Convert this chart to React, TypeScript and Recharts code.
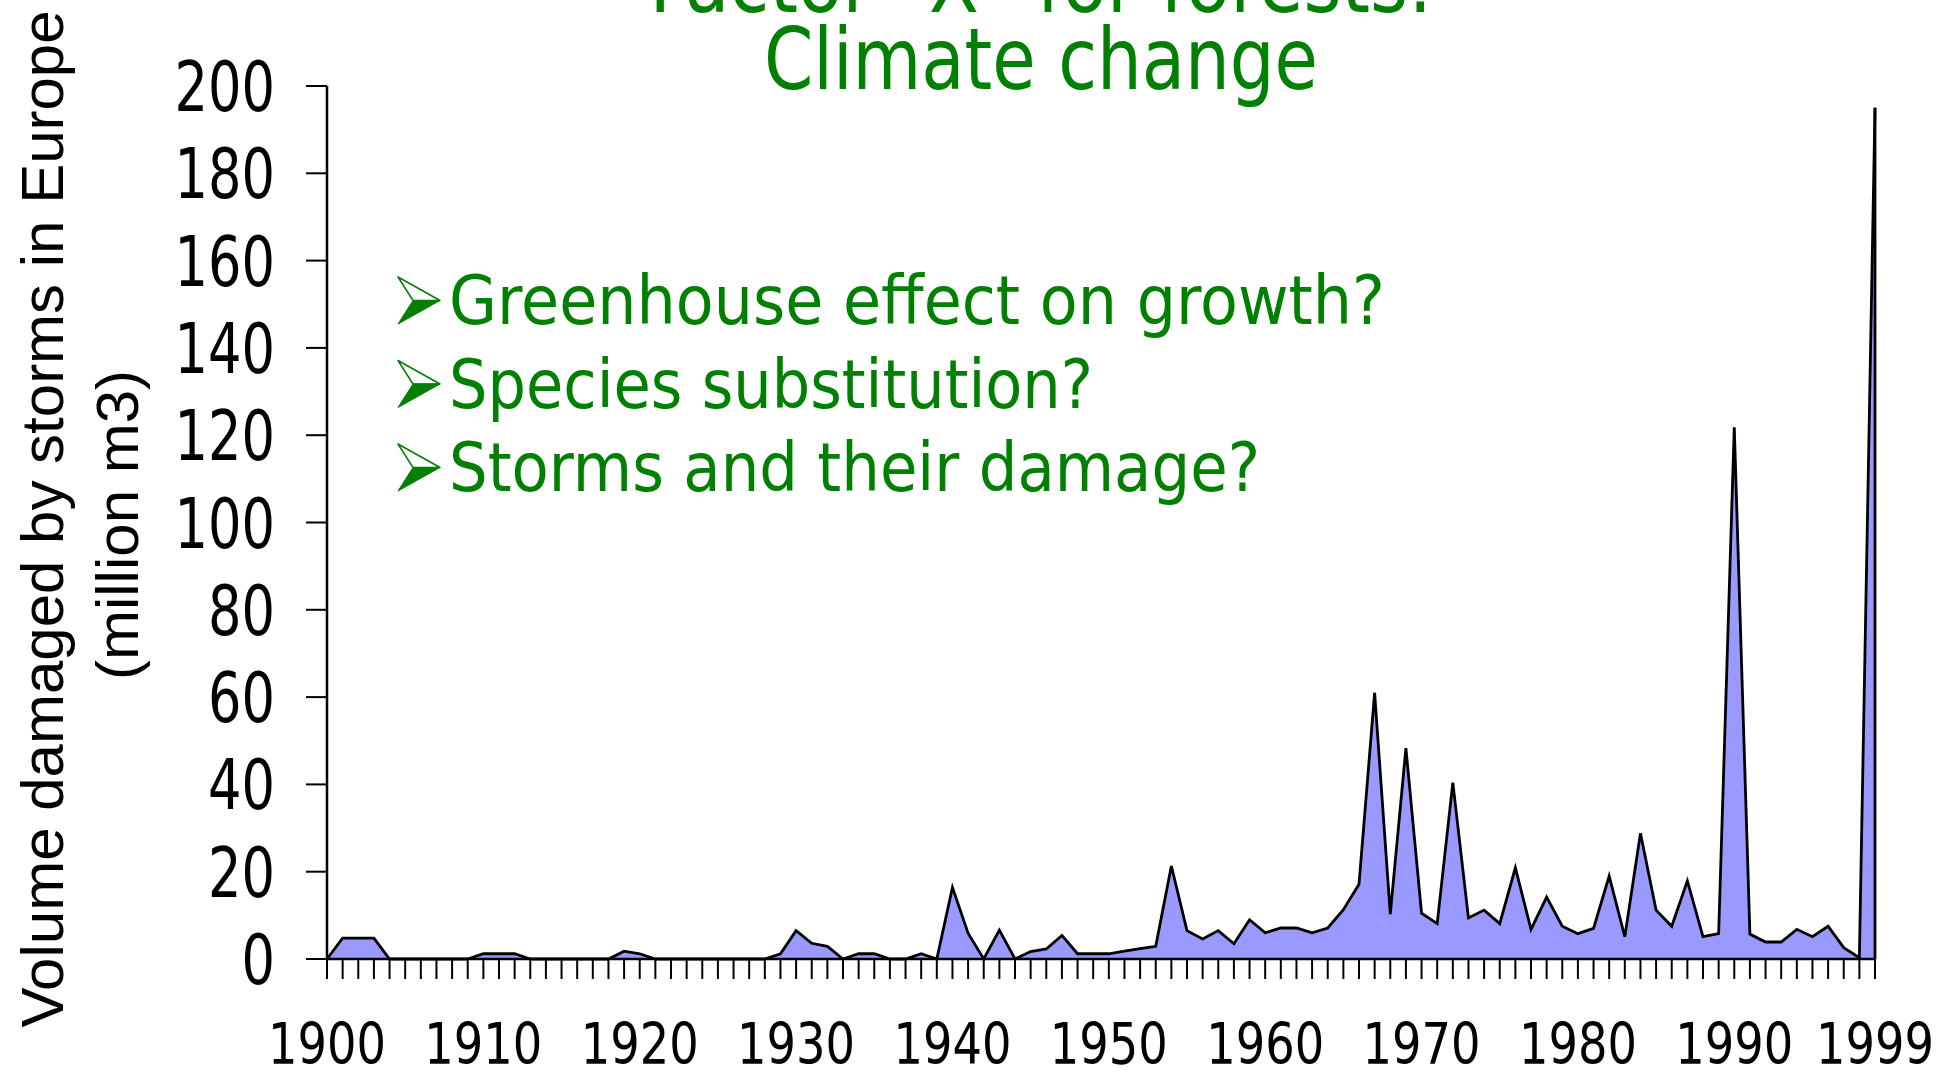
import { AreaChart, Area, XAxis, YAxis, ReferenceLine } from "recharts"

// storm damage per year, million m3
const years = [
  1900, 1901, 1902, 1903, 1904, 1905, 1906, 1907, 1908, 1909,
  1910, 1911, 1912, 1913, 1914, 1915, 1916, 1917, 1918, 1919,
  1920, 1921, 1922, 1923, 1924, 1925, 1926, 1927, 1928, 1929,
  1930, 1931, 1932, 1933, 1934, 1935, 1936, 1937, 1938, 1939,
  1940, 1941, 1942, 1943, 1944, 1945, 1946, 1947, 1948, 1949,
  1950, 1951, 1952, 1953, 1954, 1955, 1956, 1957, 1958, 1959,
  1960, 1961, 1962, 1963, 1964, 1965, 1966, 1967, 1968, 1969,
  1970, 1971, 1972, 1973, 1974, 1975, 1976, 1977, 1978, 1979,
  1980, 1981, 1982, 1983, 1984, 1985, 1986, 1987, 1988, 1989,
  1990, 1991, 1992, 1993, 1994, 1995, 1996, 1997, 1998, 1999,
]

const volumes = [
  0, 4.8, 4.8, 4.8, 0, 0, 0, 0, 0, 0,
  1.2, 1.2, 1.2, 0, 0, 0, 0, 0, 0, 1.8,
  1.2, 0, 0, 0, 0, 0, 0, 0, 0, 1.2,
  6.5, 3.6, 2.9, 0, 1.2, 1.2, 0, 0, 1.2, 0,
  16.4, 5.9, 0, 6.6, 0, 1.7, 2.3, 5.4, 1.2, 1.2,
  1.2, 1.8, 2.4, 2.9, 21.3, 6.5, 4.6, 6.5, 3.5, 9.0,
  6.0, 7.1, 7.1, 6.0, 7.1, 11.3, 17.1, 61, 10.3, 48.3,
  10.5, 8.1, 40.4, 9.4, 11.2, 8.1, 20.9, 6.8, 14.2, 7.5,
  5.8, 7.0, 19.0, 5.1, 28.8, 11.2, 7.5, 17.9, 5.1, 5.8,
  121.8, 5.7, 3.9, 3.9, 6.8, 5.1, 7.5, 2.6, 0.3, 195,
]

const yearLabels = [1900, 1910, 1920, 1930, 1940, 1950, 1960, 1970, 1980, 1990, 1999]
const volumeTicks = [0, 20, 40, 60, 80, 100, 120, 140, 160, 180, 200]

const titleLines = ["Factor \u201CX\u201D for forests:", "Climate change"]
const bullets = ["Greenhouse effect on growth?", "Species substitution?", "Storms and their damage?"]
const yTitleLines = ["Volume damaged by storms in Europe", "(million m3)"]

const GREEN = "#008000"

function YearTick(props: any) {
  const { x, y, payload } = props
  if (!yearLabels.includes(Number(payload.value))) return <g />
  return (
    <text
      x={x}
      y={y + 85}
      textAnchor="middle"
      fontFamily="DejaVu Sans"
      fontSize={57}
      textLength={118}
      lengthAdjust="spacingAndGlyphs"
      fill="#000"
    >
      {payload.value}
    </text>
  )
}

function VolumeTick(props: any) {
  const { x, y, payload } = props
  const label = String(payload.value)
  return (
    <text
      x={x}
      y={y + 25}
      textAnchor="end"
      fontFamily="DejaVu Sans"
      fontSize={70}
      textLength={label.length * 33.5}
      lengthAdjust="spacingAndGlyphs"
      fill="#000"
    >
      {label}
    </text>
  )
}

// the slide's arrowhead bullet: outlined upper half, filled lower half
function Arrowhead({ baseline }: { baseline: number }) {
  const top = baseline - 47
  const mid = baseline - 23.5
  return (
    <g>
      <path d={`M398 ${top} L440 ${mid} L413 ${mid} Z`} fill="#fff" stroke={GREEN} strokeWidth={1.5} strokeLinejoin="round" />
      <path d={`M413 ${mid} L440 ${mid} L398 ${baseline} Z`} fill={GREEN} stroke={GREEN} strokeWidth={1} />
    </g>
  )
}

export default function App() {
  const chartData = years.map((year, i) => ({ year, volume: volumes[i] }))
  const lastYear = years[years.length - 1]
  const lastVolume = volumes[volumes.length - 1]
  const bulletWidths = [936, 644, 811]

  return (
    <div style={{ position: "absolute", left: 0, top: 0, width: 1948, height: 1073, background: "#fff" }}>
      <AreaChart
        width={1948}
        height={1073}
        data={chartData}
        margin={{ top: 86, right: 73, bottom: 0, left: 0 }}
      >
        <XAxis
          dataKey="year"
          interval={0}
          height={114}
          tickSize={20}
          tickMargin={0}
          axisLine={{ stroke: "#000", strokeWidth: 2.5 }}
          tickLine={{ stroke: "#000", strokeWidth: 2 }}
          tick={<YearTick />}
        />
        <YAxis
          domain={[0, 200]}
          ticks={volumeTicks}
          width={327}
          tickSize={21}
          tickMargin={31}
          axisLine={{ stroke: "#000", strokeWidth: 2.5 }}
          tickLine={{ stroke: "#000", strokeWidth: 2 }}
          tick={<VolumeTick />}
        />
        <Area
          type="linear"
          dataKey="volume"
          stroke="#000"
          strokeWidth={2.8}
          fill="#9999FF"
          fillOpacity={1}
          dot={false}
          activeDot={false}
          isAnimationActive={false}
        />
        <ReferenceLine
          segment={[{ x: lastYear, y: 0 }, { x: lastYear, y: lastVolume }]}
          stroke="#000"
          strokeWidth={2.8}
        />
      </AreaChart>

      <svg
        width={1948}
        height={1073}
        style={{ position: "absolute", left: 0, top: 0, pointerEvents: "none" }}
      >
        {/* slide title, first line is cut off by the top edge */}
        <text x={1041} y={12} textAnchor="middle" fontFamily="DejaVu Sans" fontSize={86} fill={GREEN}
          textLength={783} lengthAdjust="spacingAndGlyphs">
          {titleLines[0]}
        </text>
        <text x={1041} y={89} textAnchor="middle" fontFamily="DejaVu Sans" fontSize={86} fill={GREEN}
          textLength={554} lengthAdjust="spacingAndGlyphs">
          {titleLines[1]}
        </text>

        {bullets.map((b, i) => {
          const baseline = 324 + i * 83.5
          return (
            <g key={b}>
              <Arrowhead baseline={baseline} />
              <text x={449} y={baseline} fontFamily="DejaVu Sans" fontSize={67} fill={GREEN}
                textLength={bulletWidths[i]} lengthAdjust="spacingAndGlyphs">
                {b}
              </text>
            </g>
          )
        })}

        {/* y axis title */}
        <text x={63} y={519} transform="rotate(-90 63 519)" textAnchor="middle"
          fontFamily="Liberation Sans" fontSize={60} fill="#000">
          {yTitleLines[0]}
        </text>
        <text x={138} y={525} transform="rotate(-90 138 525)" textAnchor="middle"
          fontFamily="Liberation Sans" fontSize={60} fill="#000">
          {yTitleLines[1]}
        </text>
      </svg>
    </div>
  )
}
